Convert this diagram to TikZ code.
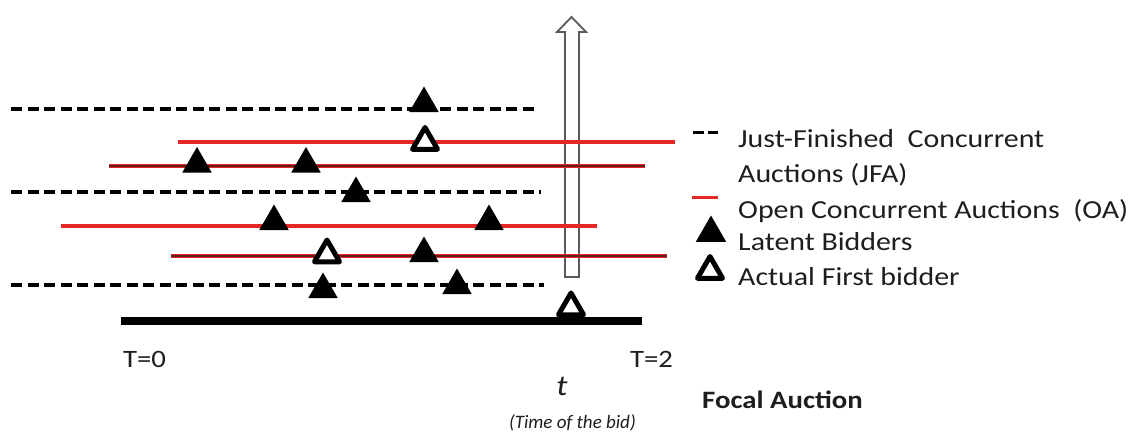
\documentclass[tikz,border=0pt]{standalone}
\usepackage{fontspec}
\setmainfont{Carlito}[FakeStretch=1.15]
\newfontfamily\narrowcarlito{Carlito}
\usetikzlibrary{shapes.geometric}
\definecolor{oared}{RGB}{228,38,38}
\definecolor{oadark}{RGB}{105,28,28}
\definecolor{txt}{RGB}{30,30,30}
\definecolor{arrowgray}{RGB}{90,90,90}
\tikzset{
  jfa/.style={line width=4pt, dash pattern=on 11pt off 5.5pt, black},
  oa/.style={line width=4pt, oared},
  oadk/.style={line width=1pt, oared, double=oadark, double distance=2.5pt},
  focal/.style={line width=7.5pt, black},
  latent/.style={regular polygon, regular polygon sides=3, fill=black, inner sep=0pt, minimum size=34pt},
  first/.style={regular polygon, regular polygon sides=3, draw=black, line width=5pt, line join=round, fill=white, inner sep=0pt, minimum size=29pt},
  lg/.style={font=\fontsize{26}{30}\selectfont, text=txt, inner sep=0pt, anchor=base west},
}
\begin{document}
\begin{tikzpicture}[x=1pt, y=-1pt]
\useasboundingbox[fill=white] (0,0) rectangle (1138,436);

% time arrow
\draw[arrowgray, line width=1.8pt, fill=white, line join=miter]
  (565,277) -- (565,32) -- (557,32) -- (571.5,17) -- (586,32) -- (579,32) -- (579,277) -- cycle;

% line end points
\coordinate (d1a) at (11,109);  \coordinate (d1b) at (536,109);
\coordinate (r1a) at (178,142); \coordinate (r1b) at (675,142);
\coordinate (r2a) at (109,166); \coordinate (r2b) at (645,166);
\coordinate (d2a) at (11,192);  \coordinate (d2b) at (541,192);
\coordinate (r3a) at (61,226);  \coordinate (r3b) at (597,226);
\coordinate (r4a) at (171,256); \coordinate (r4b) at (667,256);
\coordinate (d3a) at (11,285);  \coordinate (d3b) at (544,285);
\coordinate (fa) at (121,321);  \coordinate (fb) at (642,321);

\draw[jfa] (d1a) -- (d1b);
\draw[oa] (r1a) -- (r1b);
\draw[oadk] (r2a) -- (r2b);
\draw[jfa] (d2a) -- (d2b);
\draw[oa] (r3a) -- (r3b);
\draw[oadk] (r4a) -- (r4b);
\draw[jfa] (d3a) -- (d3b);
\draw[focal] (fa) -- (fb);

% bidders
\node[latent] (b1) at (424,103.5) {};
\node[first]  (f1) at (425,142) {};
\node[latent] (b2) at (197,164) {};
\node[latent] (b3) at (306,164) {};
\node[latent] (b4) at (356,193.5) {};
\node[latent] (b5) at (274,221.5) {};
\node[latent] (b6) at (489,221.5) {};
\node[first]  (f2) at (327,254.5) {};
\node[latent] (b7) at (424,253.5) {};
\node[latent] (b8) at (323,289.5) {};
\node[latent] (b9) at (457,285.5) {};
\node[first]  (f3) at (571,307.5) {};

% legend
\coordinate (k1a) at (693,132.5); \coordinate (k1b) at (704,132.5);
\coordinate (k2a) at (708,132.5); \coordinate (k2b) at (718,132.5);
\draw[line width=3.5pt, black] (k1a) -- (k1b);
\draw[line width=3.5pt, black] (k2a) -- (k2b);
\coordinate (k3a) at (692,197); \coordinate (k3b) at (718,197);
\draw[line width=3pt, oared] (k3a) -- (k3b);
\node[latent, minimum size=35pt] (kb) at (711,233) {};
\node[first] (kf) at (710,271) {};

\node[lg] (l1) at (738,147) {Just-Finished\ \ Concurrent};
\node[lg] (l2) at (738,182) {Auctions (JFA)};
\node[lg] (l3) at (738,218) {Open Concurrent Auctions\ \ (OA)};
\node[lg] (l4) at (738,250) {Latent Bidders};
\node[lg] (l5) at (738,285) {Actual First bidder};

% axis labels
\node[font=\fontsize{25}{28}\selectfont, text=txt, inner sep=0pt, anchor=base] (t0) at (144.5,367) {T=0};
\node[font=\fontsize{25}{28}\selectfont, text=txt, inner sep=0pt, anchor=base] (t2) at (651.5,367) {T=2};
\node[font=\fontsize{29}{32}\selectfont\itshape, text=txt, inner sep=0pt, anchor=base] (tt) at (562,395) {t};
\node[font=\narrowcarlito\fontsize{19}{22}\selectfont\itshape, text=txt, inner sep=0pt, anchor=base east] (tb) at (636,428) {(Time of the bid)};
\node[font=\fontsize{25}{28}\selectfont\bfseries, text=txt, inner sep=0pt, anchor=base west] (fl) at (702,408) {Focal Auction};
\end{tikzpicture}
\end{document}
